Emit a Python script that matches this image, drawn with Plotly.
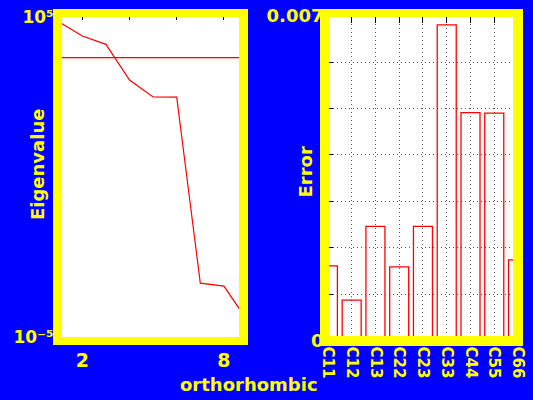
import plotly.graph_objects as go

W, H = 533, 400

# ---- data ----
modes = [1, 2, 3, 4, 5, 6, 7, 8, 9]
eigenvalues = [7.1e4, 2.55e4, 1.40e4, 1.07e3, 316, 312, 4.8e-4, 3.9e-4, 3.2e-5]
threshold = 5.35e3
constants = ["C11", "C12", "C13", "C22", "C23", "C33", "C44", "C55", "C66"]
errors = [0.00161, 0.00087, 0.00246, 0.00159, 0.00246, 0.0068, 0.00491, 0.0049, 0.00174]
err_ticks = [0, 0.001, 0.002, 0.003, 0.004, 0.005, 0.006, 0.007]
err_ticktext = ["0", "", "", "", "", "", "", "0.007"]
eig_ticks = [1e5, 1e-5]
eig_ticktext = ["10⁵", "10⁻⁵"]

YEL = "#FFFF00"
RED = "#FF0000"
FONT = "DejaVu Sans"


def px(x):
    return x / W


def py(y):
    return (H - y) / H


fig = go.Figure()

fig.add_trace(go.Scatter(x=modes, y=eigenvalues, mode="lines",
                         line=dict(color=RED, width=1.2), xaxis="x", yaxis="y"))
fig.add_trace(go.Scatter(x=[modes[0], modes[-1]], y=[threshold, threshold], mode="lines",
                         line=dict(color=RED, width=1.2), xaxis="x", yaxis="y"))
fig.add_trace(go.Scatter(x=[], y=[], xaxis="x3", yaxis="y"))

fig.add_trace(go.Bar(x=constants, y=errors, width=0.8,
                     marker=dict(color="rgba(0,0,0,0)", line=dict(color=RED, width=1.3)),
                     xaxis="x2", yaxis="y2"))
fig.add_trace(go.Scatter(x=[], y=[], xaxis="x4", yaxis="y2"))

gridstyle = dict(showgrid=True, gridcolor="#555555", gridwidth=1, griddash="1px,3px")

fig.update_layout(
    width=W, height=H,
    margin=dict(l=0, r=0, t=0, b=0, autoexpand=False),
    paper_bgcolor="#0000FF", plot_bgcolor="white",
    showlegend=False,
    font=dict(family=FONT, color=YEL, weight="bold"),
    xaxis=dict(domain=[px(57.5), px(243.5)], range=[0.949, 8.83], anchor="y",
               tickvals=[2, 4, 6, 8], ticktext=["2", "", "", "8"], ticks="",
               showgrid=False, zeroline=False, showline=False, automargin=False,
               tickfont=dict(size=19, color=YEL, family=FONT, weight="bold"),
               ticklabelstandoff=6),
    xaxis3=dict(overlaying="x", side="top", anchor="y", range=[0.949, 8.83],
                tickvals=[2, 4, 6, 8], showticklabels=False, ticks="inside",
                ticklen=7, tickcolor="black", tickwidth=1, automargin=False,
                showgrid=False, zeroline=False, showline=False),
    yaxis=dict(domain=[py(341), py(13)], type="log", range=[-5.125, 5.125], anchor="x",
               tickvals=eig_ticks, ticktext=eig_ticktext, automargin=False,
               ticks="", showgrid=False, zeroline=False, showline=False,
               ticklabelstandoff=3,
               tickfont=dict(size=17, color=YEL, family=FONT, weight="bold")),
    xaxis2=dict(domain=[px(324.5), px(518.5)], range=[-0.143, 8.02], anchor="y2",
                type="category", tickangle=90, ticks="", automargin=False,
                zeroline=False, showline=False,
                tickfont=dict(size=15, color=YEL, family=FONT, weight="bold"),
                ticklabelstandoff=5, **gridstyle),
    xaxis4=dict(overlaying="x2", side="top", anchor="y2", range=[0.857, 9.02],
                tickvals=[2, 3, 4, 5, 6, 7, 8], showticklabels=False, ticks="inside",
                ticklen=7, tickcolor="black", tickwidth=1, automargin=False,
                showgrid=False, zeroline=False, showline=False),
    yaxis2=dict(domain=[py(340.6), py(15.6)], range=[0, 0.007], anchor="x2",
                tickvals=err_ticks, ticktext=err_ticktext, automargin=False,
                ticks="inside", ticklen=8, tickcolor="black", tickwidth=1,
                zeroline=False, showline=False,
                tickfont=dict(size=18, color=YEL, family=FONT, weight="bold"),
                **gridstyle),
)

# yellow frames (outer box minus inner white area)
shapes = []
for (ox0, oy0, ox1, oy1), (ix0, iy0, ix1, iy1) in [
    ((53, 9, 248, 345), (62, 17, 239, 337)),
    ((320, 9, 523, 346), (329, 17, 513, 336)),
]:
    for (a, b, c, d) in [
        (ox0, oy0, ox1, iy0),  # top
        (ox0, iy1, ox1, oy1),  # bottom
        (ox0, iy0, ix0, iy1),  # left
        (ix1, iy0, ox1, iy1),  # right
    ]:
        shapes.append(dict(type="rect", xref="paper", yref="paper",
                           x0=px(a), x1=px(c), y0=py(d), y1=py(b),
                           fillcolor=YEL, line=dict(width=0), layer="above"))
fig.update_layout(shapes=shapes)

ann_font = dict(size=18, color=YEL, family=FONT, weight="bold")
fig.add_annotation(text="orthorhombic", xref="paper", yref="paper",
                   x=px(249), y=py(384), xanchor="center", yanchor="middle",
                   showarrow=False, font=ann_font)
fig.add_annotation(text="Eigenvalue", xref="paper", yref="paper",
                   x=px(37), y=py(165), xanchor="center", yanchor="middle",
                   showarrow=False, textangle=-90, font=ann_font)
fig.add_annotation(text="Error", xref="paper", yref="paper",
                   x=px(305), y=py(172.5), xanchor="center", yanchor="middle",
                   showarrow=False, textangle=-90, font=ann_font)

fig.write_html("out.html", config={"displayModeBar": False},
               post_script="document.body.style.margin='0';document.body.style.overflow='hidden';")
